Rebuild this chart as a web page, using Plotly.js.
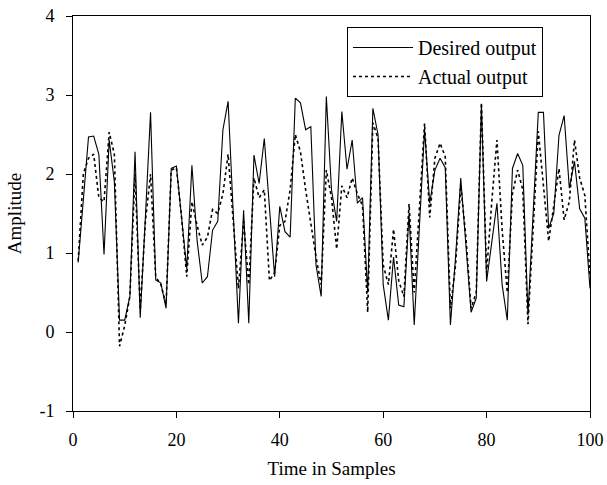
<!DOCTYPE html>
<html><head><meta charset="utf-8">
<script src="https://cdn.plot.ly/plotly-3.0.1.min.js"></script>
<style>body{margin:0;padding:0;background:#fff}</style>
</head><body><div id="chart" style="width:607px;height:485px"></div>
<script>
const samples = [1,2,3,4,5,6,7,8,9,10,11,12,13,14,15,16,17,18,19,20,
21,22,23,24,25,26,27,28,29,30,31,32,33,34,35,36,37,38,39,40,
41,42,43,44,45,46,47,48,49,50,51,52,53,54,55,56,57,58,59,60,
61,62,63,64,65,66,67,68,69,70,71,72,73,74,75,76,77,78,79,80,
81,82,83,84,85,86,87,88,89,90,91,92,93,94,95,96,97,98,99,100];

const desired = [0.88,1.7,2.47,2.48,2.25,0.98,2.43,1.9,0.15,0.15,
0.45,2.28,0.18,1.45,2.78,0.66,0.62,0.3,2.07,2.1,
1.4,0.8,2.11,1.16,0.62,0.7,1.29,1.4,2.56,2.92,
1.5,0.11,1.54,0.11,2.24,1.88,2.45,1.6,0.7,1.59,
1.27,1.2,2.96,2.9,2.56,2.6,0.85,0.45,2.98,1.8,
1.4,2.79,2.06,2.43,1.63,1.7,0.5,2.83,2.5,0.6,
0.15,0.95,0.34,0.32,1.5,0.09,1.3,2.56,1.63,2.05,
2.2,2.08,0.09,0.95,1.95,1.1,0.25,0.43,2.89,0.64,
1.15,1.63,0.6,0.15,2.07,2.26,2.11,0.22,1.5,2.78,
2.78,1.31,1.5,2.49,2.74,1.82,2.16,1.56,1.44,0.55];

const actual = [0.9,2.0,2.2,2.25,1.7,1.65,2.53,2.25,-0.18,0.08,
0.45,2.0,0.28,1.4,2.0,0.7,0.6,0.35,2.05,2.08,
1.45,0.7,1.65,1.35,1.1,1.2,1.55,1.5,1.75,2.25,
1.4,0.55,1.4,0.6,1.95,1.7,1.8,0.65,0.75,1.35,
1.4,1.8,2.5,2.28,1.8,1.35,0.95,0.6,2.05,1.7,
1.05,1.85,1.7,1.95,1.75,1.6,0.25,2.65,2.45,0.85,
0.6,1.3,0.65,0.45,1.62,0.5,1.5,2.64,1.45,2.2,
2.39,2.22,0.3,0.85,1.85,1.2,0.3,0.5,2.9,0.75,
1.65,2.43,1.3,0.5,1.75,2.05,1.8,0.1,1.3,2.54,
1.85,1.15,1.6,2.07,1.42,1.65,2.43,1.95,1.73,0.7];

const xTicks = [0,20,40,60,80,100];
const yTicks = [-1,0,1,2,3,4];
const seriesNames = ['Desired output','Actual output'];

const FONT = 'Liberation Serif, Times New Roman, serif';

const traces = [
  {x: samples, y: desired, name: seriesNames[0], type: 'scatter', mode: 'lines',
   line: {color: '#000', width: 1.1, dash: 'solid'}},
  {x: samples, y: actual, name: seriesNames[1], type: 'scatter', mode: 'lines',
   line: {color: '#000', width: 1.6, dash: 'dot'}}
];

const axisCommon = {
  showgrid: false, zeroline: false, showline: true, linecolor: '#000', linewidth: 1,
  mirror: true, ticks: 'outside', ticklen: 6, tickwidth: 1, tickcolor: '#000',
  tickfont: {family: FONT, size: 18, color: '#000'}
};

const layout = {
  width: 607, height: 485,
  margin: {l: 73, r: 17, t: 16, b: 74},
  paper_bgcolor: '#fff', plot_bgcolor: '#fff',
  font: {family: FONT, color: '#000'},
  xaxis: Object.assign({}, axisCommon, {
    range: [0, 100], tickvals: xTicks, ticktext: xTicks.map(String),
    ticklabelstandoff: 6,
    title: {text: 'Time in Samples', font: {family: FONT, size: 19, color: '#000'}, standoff: 13}
  }),
  yaxis: Object.assign({}, axisCommon, {
    range: [-1, 4], tickvals: yTicks, ticktext: yTicks.map(String),
    ticklabelstandoff: 8,
    title: {text: 'Amplitude', font: {family: FONT, size: 19, color: '#000'}, standoff: 12}
  }),
  legend: {
    x: 0.53, y: 0.972, xanchor: 'left', yanchor: 'top',
    bgcolor: '#fff', bordercolor: '#000', borderwidth: 1,
    font: {family: FONT, size: 20, color: '#000'},
    itemwidth: 60, tracegroupgap: 0
  },
  showlegend: true
};

Plotly.newPlot('chart', traces, layout, {displayModeBar: false, staticPlot: true});
</script>
</body></html>
